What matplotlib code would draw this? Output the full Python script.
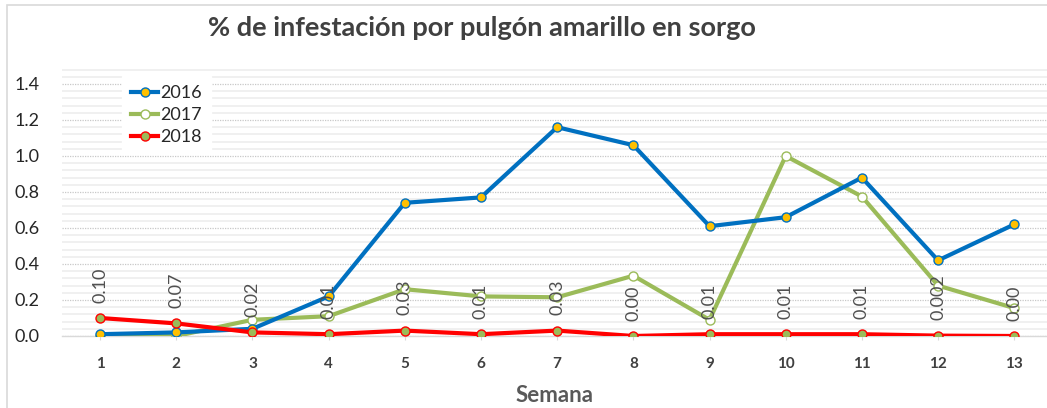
import matplotlib
matplotlib.use("Agg")
import matplotlib.pyplot as plt
from matplotlib.patches import Rectangle
from matplotlib.ticker import MultipleLocator

weeks = [1, 2, 3, 4, 5, 6, 7, 8, 9, 10, 11, 12, 13]
y2016 = [0.01, 0.02, 0.04, 0.22, 0.74, 0.77, 1.16, 1.06, 0.61, 0.66, 0.88, 0.42, 0.62]
y2017 = [0.00, 0.00, 0.09, 0.11, 0.26, 0.22, 0.215, 0.335, 0.09, 1.00, 0.775, 0.28, 0.155]
y2018 = [0.10, 0.07, 0.02, 0.01, 0.03, 0.01, 0.03, 0.00, 0.01, 0.01, 0.01, 0.002, 0.00]
labels2018 = ["0.10", "0.07", "0.02", "0.01", "0.03", "0.01", "0.03", "0.00", "0.01", "0.01", "0.01", "0.002", "0.00"]

plt.rcParams['font.family'] = ['Lato', 'DejaVu Sans']

fig = plt.figure(figsize=(10.47, 4.08), dpi=100)
ax = fig.add_axes([62/1047, 1-336/408, (1047-62)/1047, (336-66)/408])

fig.patches.append(Rectangle((7/1047, -0.01), 1.05, 1-5/408+0.01, transform=fig.transFigure,
                             fill=False, edgecolor='#D9D9D9', linewidth=1.2, zorder=0))

ax.plot(weeks, y2016, color='#0070C0', lw=3, marker='o', ms=6.5,
        markerfacecolor='#FFC000', markeredgecolor='#0070C0', markeredgewidth=1, label='2016', zorder=4)
ax.plot(weeks, y2017, color='#9BBB59', lw=3, marker='o', ms=6.5,
        markerfacecolor='white', markeredgecolor='#9BBB59', markeredgewidth=1, label='2017', zorder=3)
ax.plot(weeks, y2018, color='#FF0000', lw=3, marker='o', ms=6.5,
        markerfacecolor='#9BBB59', markeredgecolor='#FF0000', markeredgewidth=1, label='2018', zorder=5)

for x, y, t in zip(weeks, y2018, labels2018):
    ax.annotate(t, (x, y), xytext=(0, 11), textcoords='offset points', rotation=90,
                ha='center', va='bottom', fontsize=13, color='#505050', zorder=6)

ax.set_xlim(0.5, 13.43)
ax.set_ylim(0, 1.5)
ax.set_xticks(weeks)
ax.set_xticklabels([str(w) for w in weeks], fontweight='bold', fontsize=11, color='#404040')
ax.set_yticks([0, 0.2, 0.4, 0.6, 0.8, 1.0, 1.2, 1.4])
ax.set_yticklabels(['0.0', '0.2', '0.4', '0.6', '0.8', '1.0', '1.2', '1.4'], fontsize=13, color='#262626')
ax.yaxis.set_minor_locator(MultipleLocator(0.04))
ax.grid(axis='y', which='major', color='#C8C8C8', linestyle=(0, (1, 1)), linewidth=0.9, zorder=0)
ax.grid(axis='y', which='minor', color='#EDEDED', linestyle='-', linewidth=1.2, zorder=0)
ax.tick_params(axis='y', which='both', length=0, pad=16)
ax.tick_params(axis='x', length=3, color='#D9D9D9', pad=12)
for s in ['top', 'right', 'left']:
    ax.spines[s].set_visible(False)
ax.spines['bottom'].set_color('#D9D9D9')
ax.spines['bottom'].set_linewidth(1)
ax.set_axisbelow(True)

ax.set_xlabel('Semana', fontsize=16, fontweight='bold', color='#595959', labelpad=10)
fig.text(0.46, 1-28/408, '% de infestación por pulgón amarillo en sorgo', ha='center', va='center',
         fontsize=19.5, fontweight='bold', color='#404040')

leg = ax.legend(loc='upper left', bbox_to_anchor=(0.052, 0.995), frameon=True, fontsize=13,
                handlelength=1.5, labelspacing=0.33, borderpad=0.5, handletextpad=0.1)
leg.get_frame().set_edgecolor('white')
leg.get_frame().set_facecolor('white')
leg.get_frame().set_alpha(1)
leg.get_frame().set_boxstyle('square', pad=0)
for t in leg.get_texts():
    t.set_color('#262626')

fig.savefig('out.png', dpi=100, facecolor='white')
